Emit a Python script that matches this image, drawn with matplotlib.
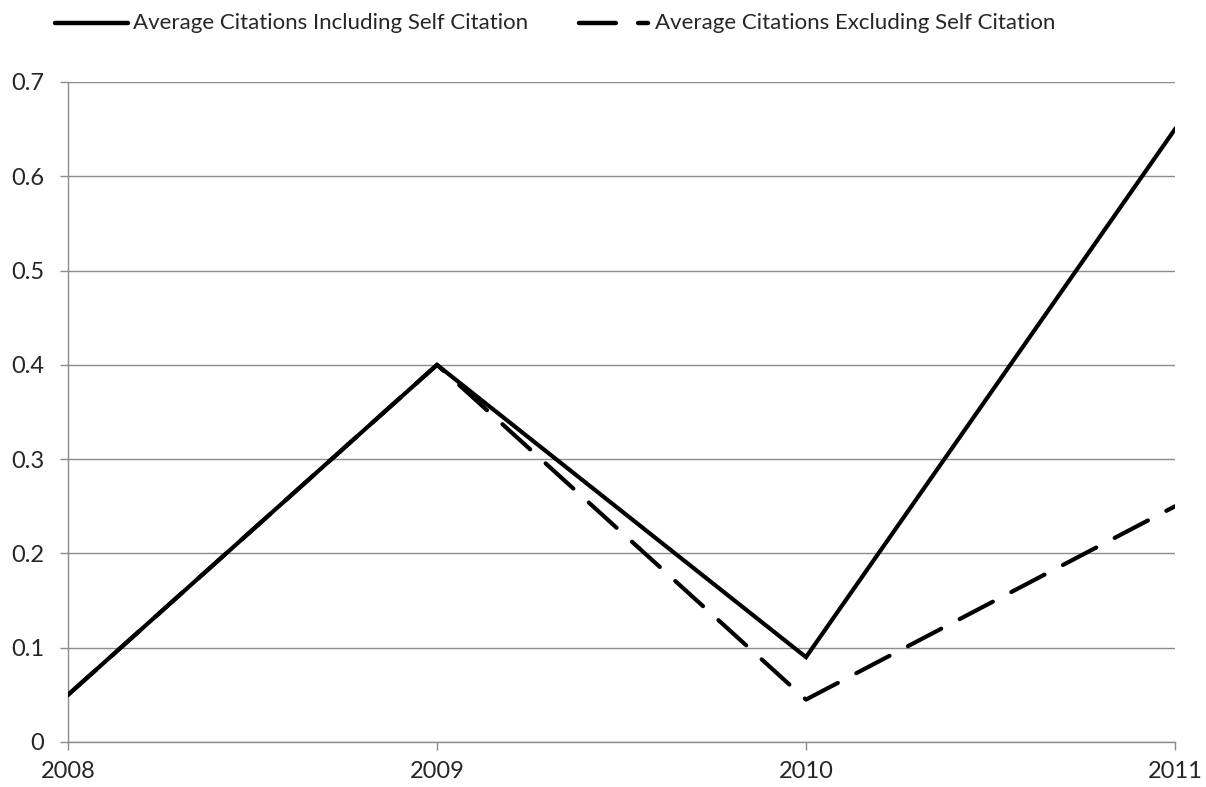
import matplotlib
matplotlib.use("Agg")
import matplotlib.pyplot as plt
from matplotlib.lines import Line2D

years = ["2008", "2009", "2010", "2011"]
incl_self = [0.05, 0.40, 0.09, 0.65]
excl_self = [0.05, 0.40, 0.045, 0.25]
y_ticks = [0, 0.1, 0.2, 0.3, 0.4, 0.5, 0.6, 0.7]
y_tick_labels = ["0", "0.1", "0.2", "0.3", "0.4", "0.5", "0.6", "0.7"]
series_labels = ["Average Citations Including Self Citation",
                 "Average Citations Excluding Self Citation"]

plt.rcParams["font.family"] = ["Lato", "DejaVu Sans"]
TEXT = "#262626"
GRID = "#8c8c8c"

W, H = 1206, 787
fig = plt.figure(figsize=(W / 100, H / 100), dpi=100)
ax = fig.add_axes([68 / W, 1 - 742 / H, (1175 - 68) / W, (742 - 82) / H])

DASH = (9.0, 5.0)
x = list(range(len(years)))
ax.plot(x, incl_self, color="black", lw=3.0, solid_joinstyle="miter", zorder=3)
ax.plot(x, excl_self, color="black", lw=3.0, dashes=DASH,
        dash_capstyle="round", zorder=3)

ax.set_xlim(0, 3)
ax.set_ylim(0, 0.7)
ax.set_xticks(x)
ax.set_xticklabels(years)
ax.set_yticks(y_ticks)
ax.set_yticklabels(y_tick_labels)

ax.grid(axis="y", color=GRID, lw=1.0)
ax.set_axisbelow(True)
for side in ("top", "right"):
    ax.spines[side].set_visible(False)
for side in ("left", "bottom"):
    ax.spines[side].set_color(GRID)
    ax.spines[side].set_linewidth(1.0)

ax.tick_params(axis="both", colors=GRID, labelcolor=TEXT, labelsize=17,
               length=6, width=1.0, direction="out")
ax.tick_params(axis="y", pad=11)
ax.tick_params(axis="x", pad=8)

# Legend row across the top, drawn in figure pixel positions
ly = 1 - 23 / H
fig.add_artist(Line2D([55 / W, 128 / W], [ly, ly], transform=fig.transFigure,
                      color="black", lw=3.2, solid_capstyle="round"))
fig.text(133 / W, ly, series_labels[0], fontsize=16, color=TEXT,
         ha="left", va="center")
fig.add_artist(Line2D([579 / W, 648 / W], [ly, ly], transform=fig.transFigure,
                      color="black", lw=3.2, dashes=(8.3, 5.0), dash_capstyle="round"))
fig.text(655 / W, ly, series_labels[1], fontsize=16, color=TEXT,
         ha="left", va="center")

fig.savefig("out.png", dpi=100)
